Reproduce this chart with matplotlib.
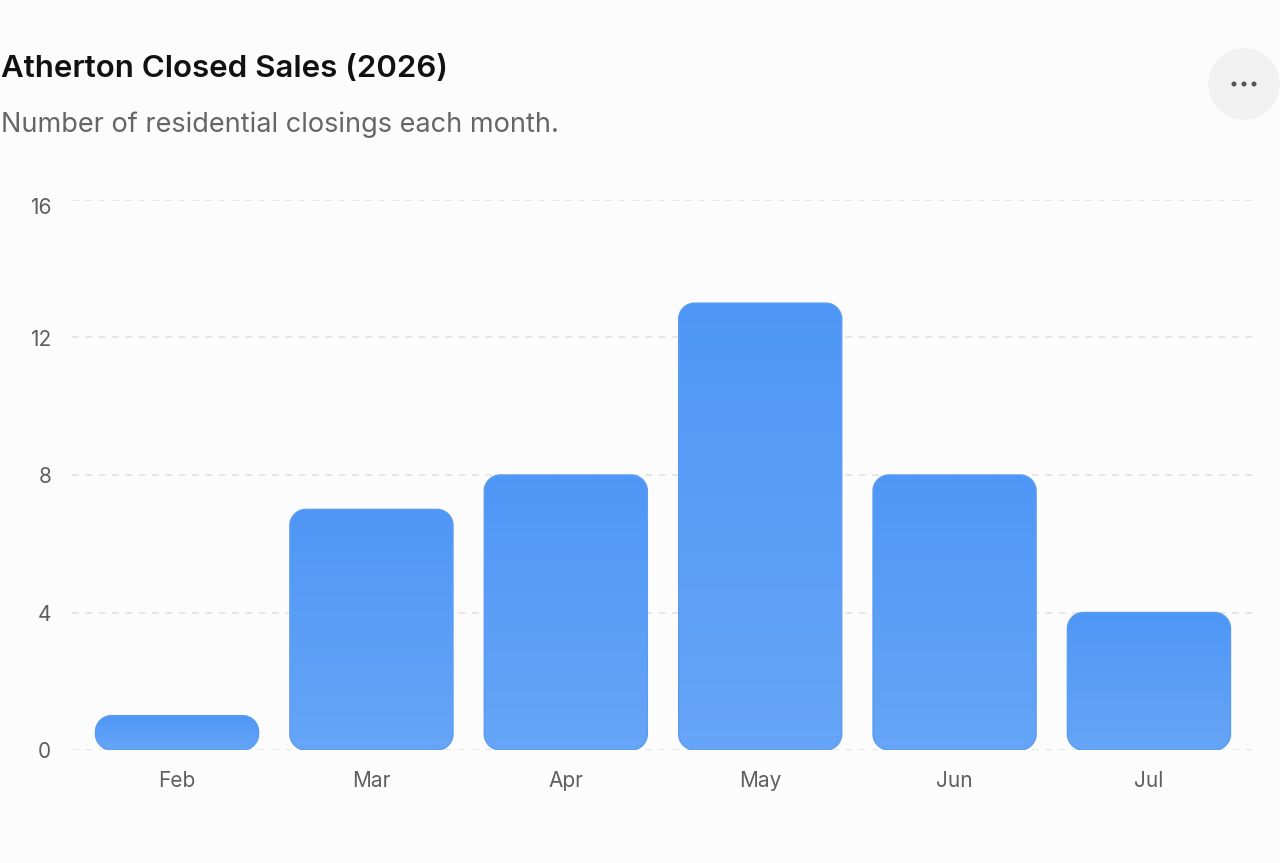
import numpy as np
import matplotlib
matplotlib.use("Agg")
import matplotlib.pyplot as plt
import matplotlib.transforms as mtransforms
from matplotlib.patches import PathPatch, Circle
from matplotlib.path import Path

months = ["Feb", "Mar", "Apr", "May", "Jun", "Jul"]
closings = [1, 7, 8, 13, 8, 4]
y_ticks = [0, 4, 8, 12, 16]

plt.rcParams["font.family"] = ["Inter", "DejaVu Sans"]

W, H = 1280, 863
fig = plt.figure(figsize=(W / 100, H / 100), dpi=100)
fig.patch.set_facecolor("#fcfcfc")

# axes placed in pixels: x 72..1254, y 200..750
ax_w = 1182
ax = fig.add_axes([72 / W, (H - 750) / H, ax_w / W, 550 / H])
ax.set_facecolor("none")
pad = 7.85 / 194.3
xlim = (-0.5 - pad, len(months) - 0.5 + pad)

for s in ax.spines.values():
    s.set_visible(False)
ax.set_yticks(y_ticks)
ax.set_yticklabels([str(t) for t in y_ticks])
ax.set_xticks(range(len(months)))
ax.set_xticklabels(months)
ax.tick_params(axis="both", length=0, colors="#5f5f5f", labelsize=15)
ax.tick_params(axis="y", pad=15)
ax.tick_params(axis="x", pad=15)
ax.grid(axis="y", color="#e2e2e2", linestyle=(0, (4, 4)), linewidth=1.2)
ax.set_axisbelow(True)

# top tick label sits a bit lower than its gridline
top_lbl = ax.get_yticklabels()[-1]
top_lbl.set_transform(top_lbl.get_transform() +
                      mtransforms.ScaledTranslation(0, -6 / 100, fig.dpi_scale_trans))

# pixel -> data scale for rounding corners
px_x = (xlim[1] - xlim[0]) / ax_w
px_y = 16 / 550


def rounded_bar(x0, x1, y0, y1, r_px):
    rx, ry = r_px * px_x, r_px * px_y
    t = np.linspace(0, np.pi / 2, 20)
    pts = []
    # corners: bottom-right, top-right, top-left, bottom-left
    for cx, cy, a0 in [(x1 - rx, y0 + ry, -np.pi / 2), (x1 - rx, y1 - ry, 0),
                       (x0 + rx, y1 - ry, np.pi / 2), (x0 + rx, y0 + ry, np.pi)]:
        a = a0 + t
        pts.extend(zip(cx + rx * np.cos(a), cy + ry * np.sin(a)))
    pts.append(pts[0])
    codes = [Path.MOVETO] + [Path.LINETO] * (len(pts) - 2) + [Path.CLOSEPOLY]
    return Path(pts, codes)


bar_w = 0.839
grad = np.linspace(0, 1, 256).reshape(-1, 1)
cmap = matplotlib.colors.LinearSegmentedColormap.from_list("g", ["#4f97f6", "#66a5f7"])
for i, v in enumerate(closings):
    x0 = i - bar_w / 2
    r_px = min(16, v / px_y / 2)
    box = PathPatch(rounded_bar(x0, x0 + bar_w, 0, v, r_px),
                    facecolor="none", edgecolor="#5b9cf2", linewidth=1.0, zorder=3)
    ax.add_patch(box)
    img = ax.imshow(grad, cmap=cmap, aspect="auto", extent=(x0, x0 + bar_w, 0, v),
                    origin="upper", zorder=2, interpolation="bilinear")
    img.set_clip_path(box)

ax.set_xlim(*xlim)
ax.set_ylim(0, 16)

fig.text(1 / W, 1 - 77 / H, "Atherton Closed Sales (2026)", fontsize=22.5,
         fontweight="semibold", color="#111111", va="baseline", ha="left")
fig.text(1 / W, 1 - 132 / H, "Number of residential closings each month.", fontsize=19.5,
         color="#666666", va="baseline", ha="left")

# options button
fig.patches.append(Circle((1244, H - 84), 36, transform=None, facecolor="#f1f1f1",
                          edgecolor="none", figure=fig))
for dx in (-10, 0, 10):
    fig.patches.append(Circle((1244 + dx, H - 84), 2.5, transform=None,
                              facecolor="#555555", edgecolor="none", figure=fig))

fig.savefig("out.png", dpi=100, facecolor=fig.get_facecolor())
